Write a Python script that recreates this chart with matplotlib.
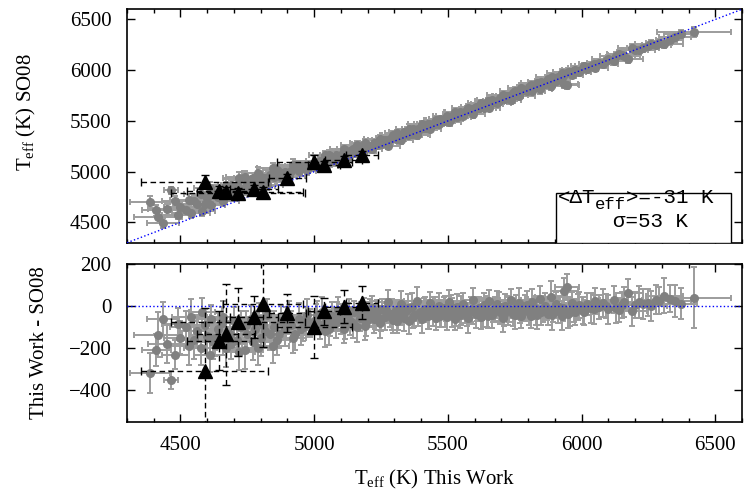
import numpy as np
import matplotlib
matplotlib.use('Agg')
import matplotlib.pyplot as plt
from matplotlib.patches import Rectangle
from matplotlib.ticker import MultipleLocator

plt.rcParams['font.family'] = 'Liberation Serif'
plt.rcParams['font.size'] = 15
plt.rcParams['mathtext.fontset'] = 'custom'
plt.rcParams['mathtext.rm'] = 'Liberation Serif'
plt.rcParams['mathtext.it'] = 'Liberation Serif:italic'
plt.rcParams['mathtext.tt'] = 'Liberation Mono'

# gray stars: Teff this work, difference (this work - SO08), errors
gray_t = [4387, 4410, 4415, 4465, 4490, 4500, 4530, 4540, 4560, 4575,
          4590, 4600, 4615, 4620, 4640, 4655, 4670, 4685, 4700, 4710,
          4725, 4740, 4750, 4765, 4780, 4790, 4800, 4810, 4825, 4835,
          4850, 4860, 4875, 4890, 4905, 4915, 4930, 4945, 4960, 4975,
          4985, 5005, 5020, 5030, 5045, 5055, 5065, 5080, 5090, 5100,
          5115, 5125, 5135, 5150, 5160, 5170, 5185, 5195, 5205, 5215,
          5225, 5235, 5245, 5255, 5265, 5275, 5285, 5295, 5305, 5315,
          5325, 5335, 5345, 5355, 5365, 5375, 5385, 5395, 5405, 5415,
          5425, 5435, 5445, 5455, 5465, 5475, 5485, 5495, 5505, 5515,
          5525, 5535, 5545, 5555, 5565, 5575, 5585, 5595, 5605, 5615,
          5625, 5635, 5645, 5655, 5665, 5675, 5685, 5695, 5705, 5715,
          5725, 5735, 5745, 5755, 5765, 5775, 5785, 5795, 5805, 5815,
          5825, 5835, 5845, 5855, 5865, 5875, 5885, 5895, 5905, 5915,
          5925, 5935, 5945, 5955, 5965, 5975, 5990, 6005, 6020, 6035,
          6050, 6065, 6080, 6100, 6120, 6140, 6160, 6175, 6200, 6230,
          6260, 6290, 6310, 6330, 6370, 6420,
          4435, 4450, 4480, 4520, 4550, 4580, 4610, 4630, 4660, 4690,
          4720, 4745, 4770, 4795, 4815, 4845, 4870, 4895, 4920, 4950,
          4970, 5010, 5040, 5060, 5085, 5110, 5130, 5145, 5175, 5190,
          5210, 5230, 5250, 5270, 5290, 5310, 5330, 5350, 5370, 5390,
          5410, 5430, 5450, 5470, 5490, 5510, 5530, 5550, 5570, 5590,
          5610, 5630, 5650, 5670, 5690, 5710, 5730, 5750, 5770, 5790,
          5810, 5830, 5850, 5870, 5890, 5910, 5930, 5950, 5970, 5985,
          6010, 6045, 6090, 6130, 6150, 6190, 6215, 6250, 6280, 6350]
gray_d = [-318, -208, -135, -350, -85, -150, -190, -50, -120, -200,
          -90, -140, -60, -170, -110, -80, -200, -130, -70, -160,
          -100, -210, -130, -60, -110, -200, -150, -90, -40, -130,
          -100, -160, -70, -110, -50, -90, -130, -60, -100, -40,
          -80, -60, -90, -30, -70, -110, -45, -80, -20, -60,
          -90, -40, -70, -30, -100, -55, -20, -75, -40, -10,
          -60, -30, -80, -15, -50, 20, -35, -65, -20, -45,
          10, -55, -25, -70, -5, -40, 25, -30, -60, -15,
          -45, 15, -25, -55, 0, -35, -10, -50, 20, -30,
          -60, -5, -40, 10, -25, -55, -15, 30, -35, -10,
          -50, 5, -25, 25, -40, -15, 10, -30, -55, 0,
          -20, 30, -35, -5, 15, -45, -20, 5, -30, 20,
          -10, -40, 35, -15, 0, -35, 45, -20, 10, -5,
          -45, 70, 90, -25, 15, -30, 5, -20, 10, -10,
          25, -5, 15, -15, 30, -20, 20, 60, 5, 10,
          0, 25, 50, 35, 12, 40,
          -60, -180, -230, -100, -160, -30, -230, -150, -50, -180,
          -220, -90, -170, -60, -120, -190, -130, -80, -150, -110,
          -70, -40, -120, -85, -50, -110, -25, -80, -40, -95,
          -25, -45, -60, -20, -40, -70, -30, -10, -50, -35,
          -20, -40, -15, -45, -25, -5, -35, -20, -40, -25,
          -15, -30, -45, -20, -5, -35, -15, -40, -25, -10,
          -45, -20, -30, -15, -40, -25, -10, -35, -20, -5,
          -30, -15, 0, -10, 5, -25, 20, 15, 30, 25]
gray_et = [75, 55, 90, 25, 60, 60, 70, 70, 60, 60,
           60, 70, 50, 60, 60, 60, 70, 60, 50, 60,
           60, 70, 60, 50, 60, 60, 70, 50, 60, 60,
           60, 50, 60, 60, 60, 50, 60, 60, 50, 60,
           50, 60, 50, 60, 50, 60, 50, 60, 50, 60,
           50, 45, 55, 40, 60, 50, 45, 55, 50, 40,
           55, 45, 60, 40, 50, 45, 55, 50, 40, 60,
           45, 55, 40, 50, 60, 45, 50, 40, 55, 45,
           50, 40, 60, 45, 50, 55, 40, 50, 45, 60,
           40, 50, 55, 45, 40, 60, 50, 45, 55, 40,
           50, 45, 60, 40, 55, 45, 50, 40, 60, 45,
           55, 40, 50, 45, 60, 50, 40, 55, 45, 50,
           40, 60, 45, 50, 55, 40, 60, 45, 50, 40,
           55, 50, 45, 60, 40, 50, 45, 55, 40, 60,
           50, 45, 55, 60, 50, 45, 60, 55, 50, 60,
           60, 50, 70, 50, 60, 137,
           60, 70, 50, 60, 70, 50, 60, 70, 60, 50,
           60, 50, 70, 60, 50, 60, 50, 60, 50, 60,
           50, 50, 60, 45, 55, 50, 45, 60, 50, 55,
           45, 55, 50, 40, 60, 45, 50, 55, 40, 50,
           45, 55, 50, 40, 60, 45, 50, 55, 40, 50,
           45, 55, 50, 40, 60, 45, 50, 55, 40, 50,
           45, 55, 50, 40, 60, 45, 50, 55, 40, 50,
           50, 55, 45, 60, 50, 55, 60, 50, 55, 60]
gray_es = [60, 50, 55, 35, 45, 50, 55, 50, 50, 55,
           50, 50, 45, 55, 50, 45, 55, 50, 45, 50,
           50, 55, 50, 45, 50, 55, 50, 45, 45, 50,
           45, 50, 45, 50, 45, 45, 50, 45, 45, 45,
           45, 40, 45, 40, 40, 45, 40, 40, 35, 40,
           40, 35, 40, 35, 40, 35, 40, 35, 35, 40,
           35, 40, 35, 30, 40, 35, 35, 40, 30, 35,
           40, 35, 30, 40, 35, 35, 40, 30, 35, 35,
           40, 30, 35, 40, 35, 30, 35, 40, 35, 30,
           35, 40, 35, 30, 35, 40, 30, 35, 40, 35,
           30, 35, 40, 35, 30, 35, 40, 35, 30, 35,
           40, 35, 30, 35, 40, 35, 30, 35, 40, 35,
           30, 35, 40, 35, 30, 35, 40, 35, 30, 35,
           40, 40, 40, 35, 30, 35, 40, 35, 35, 40,
           35, 35, 40, 35, 40, 35, 40, 40, 35, 40,
           40, 40, 45, 40, 40, 50,
           50, 55, 50, 50, 55, 45, 55, 50, 45, 50,
           55, 45, 50, 45, 50, 50, 45, 45, 50, 45,
           45, 40, 40, 35, 40, 40, 35, 40, 35, 40,
           35, 40, 30, 35, 40, 35, 30, 40, 35, 35,
           35, 40, 30, 35, 40, 35, 30, 40, 35, 35,
           35, 40, 30, 35, 40, 35, 30, 40, 35, 35,
           35, 40, 30, 35, 40, 35, 30, 40, 35, 35,
           35, 40, 35, 40, 35, 40, 45, 40, 40, 45]

# black triangles
tri_t = [4590, 4645, 4670, 4715, 4775, 4810, 4900, 5000, 5037, 5110, 5178]
tri_d = [-310, -165, -133, -76, -52, 12, -33, -100, -25, -2, 16]
tri_et = [236, 120, 110, 250, 90, 150, 70, 140, 60, 70, 60]
tri_es = [65, 50, 50, 50, 45, 50, 40, 60, 40, 40, 40]
tri_ed = [300, 140, 240, 160, 100, 205, 90, 147, 63, 80, 78]

mean_diff = -31
sigma_diff = 53

gray_t = np.array(gray_t)
gray_d = np.array(gray_d)
gray_s = gray_t - gray_d
gray_ed = np.hypot(gray_et, gray_es)
tri_t = np.array(tri_t)
tri_d = np.array(tri_d)
tri_s = tri_t - tri_d

fig = plt.figure(figsize=(7.45, 4.91), dpi=100)
ax1 = fig.add_axes([127/745, 1-242.7/491, 615/745, 233.4/491])
ax2 = fig.add_axes([127/745, 1-422/491, 615/745, 158/491])

for ax, y, ye, ty, tye in [(ax1, gray_s, gray_es, tri_s, tri_es),
                           (ax2, gray_d, gray_ed, tri_d, tri_ed)]:
    ax.errorbar(gray_t, y, xerr=gray_et, yerr=ye, fmt='o', color='#808080',
                ecolor='#9c9c9c', ms=5.5, elinewidth=1.4, capsize=2.5,
                capthick=1.4, zorder=2)
    eb = ax.errorbar(tri_t, ty, xerr=tri_et, yerr=tye, fmt='^', color='k',
                     ms=10, elinewidth=1, capsize=3, capthick=1, zorder=4)
    for lc in eb[2]:
        lc.set_linestyle((0, (4, 2.5)))

ax1.axline((4500, 4500), slope=1, color='blue', ls=':', lw=1, zorder=3)
ax2.axhline(0, color='blue', ls=':', lw=1, zorder=3)

for ax in (ax1, ax2):
    ax.set_xlim(4300, 6600)
    ax.xaxis.set_major_locator(MultipleLocator(500))
    ax.xaxis.set_minor_locator(MultipleLocator(100))
    ax.tick_params(which='both', direction='in', top=True, right=True, width=1)
    ax.tick_params(which='major', length=6)
    ax.tick_params(which='minor', length=3)
    ax.tick_params(axis='x', pad=10)
    ax.tick_params(axis='y', pad=11)
    for sp in ax.spines.values():
        sp.set_linewidth(1.2)

ax1.set_ylim(4300, 6600)
ax1.set_yticks([4500, 5000, 5500, 6000, 6500])
ax1.tick_params(labelbottom=False)
ax2.set_ylim(-550, 200)
ax2.set_yticks([-400, -200, 0, 200])

ax1.set_ylabel(r'T$_{\rm eff}$ (K) SO08')
ax1.yaxis.set_label_coords(-0.145, 0.56)
ax2.set_ylabel('This Work - SO08')
ax2.yaxis.set_label_coords(-0.127, 0.5)
ax2.set_xlabel(r'T$_{\rm eff}$ (K) This Work')
ax2.xaxis.set_label_coords(0.5, -0.29)

# stats box
ax1.add_patch(Rectangle((0.698, 0), 0.284, 0.214, transform=ax1.transAxes,
                        facecolor='white', edgecolor='k', lw=1, zorder=5))
t1 = ax1.text(0.700, 0.168, '<ΔT', transform=ax1.transAxes,
              family='Liberation Mono', fontsize=15, va='baseline', zorder=6)
t2 = ax1.annotate('eff', xy=(1, 0), xycoords=t1, xytext=(0, -3),
                  textcoords='offset points', family='Liberation Mono',
                  fontsize=12.5, va='bottom', zorder=6)
ax1.annotate('>=%d K' % mean_diff, xy=(1, 0), xycoords=t2, xytext=(0, 3),
             textcoords='offset points', family='Liberation Mono',
             fontsize=15, va='bottom', zorder=6)
ax1.text(0.852, 0.068, 'σ=%d K' % sigma_diff, transform=ax1.transAxes,
         family='Liberation Mono', fontsize=15, ha='center', va='baseline', zorder=6)

plt.savefig('out.png', dpi=100)
